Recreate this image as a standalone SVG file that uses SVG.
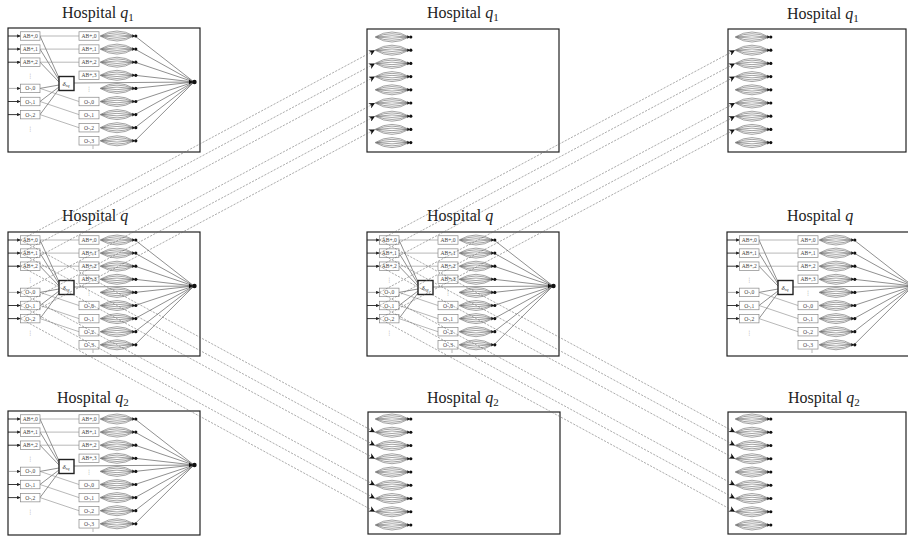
<svg xmlns="http://www.w3.org/2000/svg" xmlns:xlink="http://www.w3.org/1999/xlink" width="908" height="537" viewBox="0 0 908 537">
  <style>
    .panel { fill: #fff; stroke: #222; stroke-width: 1.2; }
    .box { fill: #fff; stroke: #888; stroke-width: 0.7; }
    .dbox { fill: #fff; stroke: #222; stroke-width: 1.4; }
    .lbl { font-family: "Liberation Serif", serif; font-size: 5.6px; fill: #444; text-anchor: middle; }
    .dots { font-family: "DejaVu Sans", sans-serif; font-size: 6px; fill: #888; text-anchor: middle; }
    .feed { stroke: #888; stroke-width: 0.6; fill: none; }
    .dark { stroke: #444; stroke-width: 0.6; fill: none; }
    .inp { stroke: #222; stroke-width: 0.9; fill: none; }
    .lens path { fill: none; stroke: #666; stroke-width: 0.6; }
    .dash { stroke: #666; stroke-width: 0.55; stroke-dasharray: 2.2 1.3; fill: none; }
    .title { font-family: "Liberation Serif", serif; font-size: 16px; fill: #222; }
  </style>
  <defs>
    <marker id="arr" viewBox="0 0 10 10" refX="10" refY="5" markerWidth="9" markerHeight="6" markerUnits="userSpaceOnUse" orient="auto">
      <path d="M0,0 L10,5 L0,10 L3,5 Z" fill="#111"/>
    </marker>
    <marker id="tip" viewBox="0 0 10 10" refX="10" refY="5" markerWidth="4" markerHeight="3.4" markerUnits="userSpaceOnUse" orient="auto">
      <path d="M0,0 L10,5 L0,10 Z" fill="#222"/>
    </marker>

    <!-- one queue: nested arcs ending in a dark tip -->
    <g id="lens" class="lens">
      <path d="M0,0 Q17,-10 34,0 Q17,10 0,0 Z" style="fill:#fff"/>
      <path d="M1,0 Q17,-6.5 33,0 M1,0 Q17,6.5 33,0 M2,0 Q17,-2.5 32,0 M2,0 Q17,2.5 32,0"/>
      <path d="M32.3,-1.8 L35,0 L32.3,1.8 Z" style="fill:#111;stroke:none"/>
      <circle cx="35.8" cy="0" r="1.6" fill="#111"/>
    </g>

    <!-- full hospital state: inputs, aged states, queues and sink -->
    <g id="detail">
      <!-- input arrows -->
      <g class="inp" marker-end="url(#tip)">
        <line x1="0" y1="8" x2="12.5" y2="8"/>
        <line x1="0" y1="21.1" x2="12.5" y2="21.1"/>
        <line x1="0" y1="34.2" x2="12.5" y2="34.2"/>
        <line x1="0" y1="60.4" x2="12.5" y2="60.4" style="stroke:#777;stroke-width:0.6"/>
        <line x1="0" y1="73.5" x2="12.5" y2="73.5"/>
        <line x1="0" y1="86.6" x2="12.5" y2="86.6"/>
      </g>
      <!-- feeds into delta -->
      <g class="dark">
        <line x1="32" y1="8" x2="51" y2="50"/>
        <line x1="32" y1="21.1" x2="51" y2="52"/>
        <line x1="32" y1="34.2" x2="51" y2="54"/>
        <line x1="32" y1="60.4" x2="51" y2="57"/>
        <line x1="32" y1="73.5" x2="51" y2="59"/>
        <line x1="32" y1="86.6" x2="51" y2="61"/>
        <line x1="66" y1="55" x2="186" y2="54"/>
      </g>
      <!-- ageing feeds -->
      <g class="feed">
        <line x1="32" y1="8" x2="71" y2="8"/>
        <line x1="32" y1="21.1" x2="71" y2="21.1"/>
        <line x1="32" y1="34.2" x2="71" y2="34.2"/>
        <line x1="32" y1="60.4" x2="71" y2="73.5"/>
        <line x1="32" y1="73.5" x2="71" y2="86.6"/>
        <line x1="32" y1="86.6" x2="71" y2="99.7"/>
      </g>
      <!-- queues to sink -->
      <g class="dark">
        <line x1="127" y1="8" x2="186" y2="54"/>
        <line x1="127" y1="21.1" x2="186" y2="54"/>
        <line x1="127" y1="34.2" x2="186" y2="54"/>
        <line x1="127" y1="47.3" x2="186" y2="54"/>
        <line x1="127" y1="60.4" x2="186" y2="54"/>
        <line x1="127" y1="73.5" x2="186" y2="54"/>
        <line x1="127" y1="86.6" x2="186" y2="54"/>
        <line x1="127" y1="99.7" x2="186" y2="54"/>
        <line x1="127" y1="112.8" x2="186" y2="54"/>
      </g>
      <path d="M181,51.8 L185,54 L181,56.2 Z" fill="#111"/>
      <circle cx="186.5" cy="54" r="2.2" fill="#111"/>

      <!-- incoming states -->
      <rect class="box" x="12.5" y="3.75" width="19.5" height="8.5"/>
      <rect class="box" x="12.5" y="16.85" width="19.5" height="8.5"/>
      <rect class="box" x="12.5" y="29.95" width="19.5" height="8.5"/>
      <rect class="box" x="12.5" y="56.15" width="19.5" height="8.5"/>
      <rect class="box" x="12.5" y="69.25" width="19.5" height="8.5"/>
      <rect class="box" x="12.5" y="82.35" width="19.5" height="8.5"/>
      <text class="lbl" x="22.25" y="10">AB+,0</text>
      <text class="lbl" x="22.25" y="23.1">AB+,1</text>
      <text class="lbl" x="22.25" y="36.2">AB+,2</text>
      <text class="lbl" x="22.25" y="62.4">O-,0</text>
      <text class="lbl" x="22.25" y="75.5">O-,1</text>
      <text class="lbl" x="22.25" y="88.6">O-,2</text>
      <text class="dots" x="22.25" y="50">⋮</text>
      <text class="dots" x="22.25" y="102.5">⋮</text>

      <!-- delta -->
      <rect class="dbox" x="51" y="48.5" width="15" height="14"/>
      <text x="54.5" y="57.5" style="font-family:'Liberation Serif',serif;font-size:7px;font-style:italic;fill:#333">δ<tspan style="font-size:4.5px" dy="1.5">rq</tspan></text>

      <!-- aged states -->
      <rect class="box" x="71" y="3.75" width="20" height="8.5"/>
      <rect class="box" x="71" y="16.85" width="20" height="8.5"/>
      <rect class="box" x="71" y="29.95" width="20" height="8.5"/>
      <rect class="box" x="71" y="43.05" width="20" height="8.5"/>
      <rect class="box" x="71" y="69.25" width="20" height="8.5"/>
      <rect class="box" x="71" y="82.35" width="20" height="8.5"/>
      <rect class="box" x="71" y="95.45" width="20" height="8.5"/>
      <rect class="box" x="71" y="108.55" width="20" height="8.5"/>
      <text class="lbl" x="81" y="10">AB+,0</text>
      <text class="lbl" x="81" y="23.1">AB+,1</text>
      <text class="lbl" x="81" y="36.2">AB+,2</text>
      <text class="lbl" x="81" y="49.3">AB+,3</text>
      <text class="lbl" x="81" y="75.5">O-,0</text>
      <text class="lbl" x="81" y="88.6">O-,1</text>
      <text class="lbl" x="81" y="101.7">O-,2</text>
      <text class="lbl" x="81" y="114.8">O-,3</text>
      <text class="dots" x="81" y="63">⋮</text>
      <line x1="85" y1="117.5" x2="85" y2="121" class="feed"/>

      <!-- queues -->
      <use xlink:href="#lens" x="92" y="8"/>
      <use xlink:href="#lens" x="92" y="21.1"/>
      <use xlink:href="#lens" x="92" y="34.2"/>
      <use xlink:href="#lens" x="92" y="47.3"/>
      <use xlink:href="#lens" x="92" y="60.4"/>
      <use xlink:href="#lens" x="92" y="73.5"/>
      <use xlink:href="#lens" x="92" y="86.6"/>
      <use xlink:href="#lens" x="92" y="99.7"/>
      <use xlink:href="#lens" x="92" y="112.8"/>
    </g>

    <!-- neighbour hospital, top row: queues only -->
    <g id="queues-top">
      <use xlink:href="#lens" x="0" y="0"/>
      <use xlink:href="#lens" x="0" y="13.2"/>
      <use xlink:href="#lens" x="0" y="26.4"/>
      <use xlink:href="#lens" x="0" y="39.6"/>
      <use xlink:href="#lens" x="0" y="52.8"/>
      <use xlink:href="#lens" x="0" y="66"/>
      <use xlink:href="#lens" x="0" y="79.2"/>
      <use xlink:href="#lens" x="0" y="92.4"/>
      <use xlink:href="#lens" x="0" y="105.6"/>
    </g>
    <g id="queues-bottom">
      <use xlink:href="#lens" x="0" y="0"/>
      <use xlink:href="#lens" x="0" y="13.25"/>
      <use xlink:href="#lens" x="0" y="26.5"/>
      <use xlink:href="#lens" x="0" y="39.75"/>
      <use xlink:href="#lens" x="0" y="53"/>
      <use xlink:href="#lens" x="0" y="66.25"/>
      <use xlink:href="#lens" x="0" y="79.5"/>
      <use xlink:href="#lens" x="0" y="92.75"/>
      <use xlink:href="#lens" x="0" y="106"/>
    </g>
  </defs>

  <rect width="908" height="537" fill="#fff"/>

  <!-- column 1 -->
  <g id="hospital-q1-left">
    <text class="title" x="62" y="18">Hospital <tspan font-style="italic">q</tspan><tspan font-size="11" dy="3">1</tspan></text>
    <rect class="panel" x="8" y="28" width="192" height="124"/>
    <use xlink:href="#detail" x="8" y="28"/>
  </g>
  <g id="hospital-q-left">
    <text class="title" x="62" y="221">Hospital <tspan font-style="italic">q</tspan></text>
    <rect class="panel" x="8" y="232" width="192" height="124"/>
    <use xlink:href="#detail" x="8" y="232"/>
  </g>
  <g id="hospital-q2-left">
    <text class="title" x="57" y="403">Hospital <tspan font-style="italic">q</tspan><tspan font-size="11" dy="3">2</tspan></text>
    <rect class="panel" x="8" y="411" width="192" height="124"/>
    <use xlink:href="#detail" x="8" y="411"/>
  </g>

  <!-- column 2 -->
  <g id="hospital-q1-mid">
    <text class="title" x="427" y="18">Hospital <tspan font-style="italic">q</tspan><tspan font-size="11" dy="3">1</tspan></text>
    <rect class="panel" x="367" y="29" width="192" height="123"/>
    <use xlink:href="#queues-top" x="375" y="37"/>
  </g>
  <g id="hospital-q-mid">
    <text class="title" x="427" y="221">Hospital <tspan font-style="italic">q</tspan></text>
    <rect class="panel" x="367" y="232" width="192" height="124"/>
    <use xlink:href="#detail" x="367" y="232"/>
  </g>
  <g id="hospital-q2-mid">
    <text class="title" x="427" y="403">Hospital <tspan font-style="italic">q</tspan><tspan font-size="11" dy="3">2</tspan></text>
    <rect class="panel" x="368" y="412" width="192" height="122"/>
    <use xlink:href="#queues-bottom" x="375" y="419"/>
  </g>

  <!-- column 3 -->
  <g id="hospital-q1-right">
    <text class="title" x="787" y="19">Hospital <tspan font-style="italic">q</tspan><tspan font-size="11" dy="3">1</tspan></text>
    <rect class="panel" x="728" y="29" width="178" height="123"/>
    <use xlink:href="#queues-top" x="735" y="37"/>
  </g>
  <g id="hospital-q-right">
    <text class="title" x="787" y="221">Hospital <tspan font-style="italic">q</tspan></text>
    <rect class="panel" x="727" y="232" width="192" height="124"/>
    <use xlink:href="#detail" x="727" y="232"/>
  </g>
  <g id="hospital-q2-right">
    <text class="title" x="788" y="403">Hospital <tspan font-style="italic">q</tspan><tspan font-size="11" dy="3">2</tspan></text>
    <rect class="panel" x="728" y="412" width="178" height="122"/>
    <use xlink:href="#queues-bottom" x="735" y="419"/>
  </g>

  <!-- transfers to neighbouring hospitals -->
  <g id="connectors" class="dash" marker-end="url(#arr)">
    <line x1="20.5" y1="240" x2="375" y2="50.2"/>
    <line x1="20.5" y1="253.1" x2="375" y2="63.4"/>
    <line x1="20.5" y1="266.2" x2="375" y2="76.6"/>
    <line x1="20.5" y1="292.4" x2="375" y2="103"/>
    <line x1="20.5" y1="305.5" x2="375" y2="116.2"/>
    <line x1="20.5" y1="318.6" x2="375" y2="129.4"/>
    <line x1="20.5" y1="240" x2="375" y2="432.25"/>
    <line x1="20.5" y1="253.1" x2="375" y2="445.5"/>
    <line x1="20.5" y1="266.2" x2="375" y2="458.75"/>
    <line x1="20.5" y1="292.4" x2="375" y2="485.25"/>
    <line x1="20.5" y1="305.5" x2="375" y2="498.5"/>
    <line x1="20.5" y1="318.6" x2="375" y2="511.75"/>

    <line x1="379.5" y1="240" x2="735" y2="50.2"/>
    <line x1="379.5" y1="253.1" x2="735" y2="63.4"/>
    <line x1="379.5" y1="266.2" x2="735" y2="76.6"/>
    <line x1="379.5" y1="292.4" x2="735" y2="103"/>
    <line x1="379.5" y1="305.5" x2="735" y2="116.2"/>
    <line x1="379.5" y1="318.6" x2="735" y2="129.4"/>
    <line x1="379.5" y1="240" x2="735" y2="432.25"/>
    <line x1="379.5" y1="253.1" x2="735" y2="445.5"/>
    <line x1="379.5" y1="266.2" x2="735" y2="458.75"/>
    <line x1="379.5" y1="292.4" x2="735" y2="485.25"/>
    <line x1="379.5" y1="305.5" x2="735" y2="498.5"/>
    <line x1="379.5" y1="318.6" x2="735" y2="511.75"/>
  </g>
</svg>
